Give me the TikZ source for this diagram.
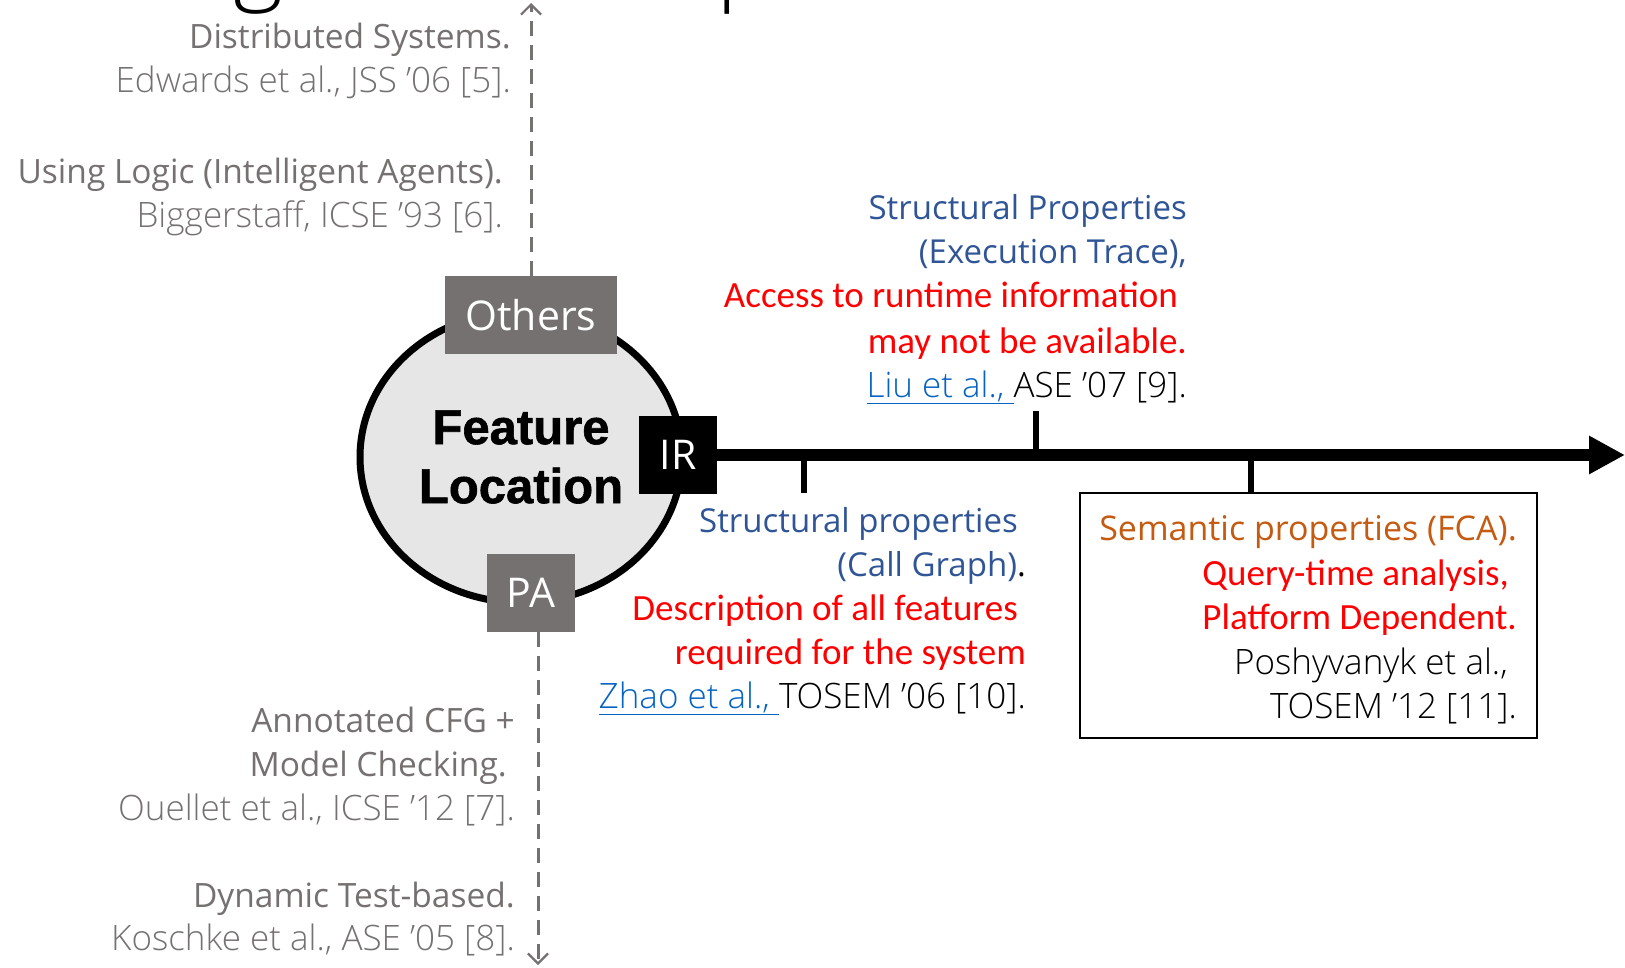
\documentclass[tikz,border=0pt]{standalone}
\usepackage{fontspec}
\usetikzlibrary{arrows.meta,shapes.geometric,calc}
\setmainfont{Open Sans}
\IfFontExistsTF{Open Sans Light}{\newfontfamily\lightfont{Open Sans Light}}{\newfontfamily\lightfont{Open Sans}}
\newfontfamily\calfont{Carlito}
\newfontfamily\flfont{Liberation Sans Bold}[FakeBold=1.2]

\definecolor{boxgray}{HTML}{767171}
\definecolor{txtgray}{HTML}{767171}
\definecolor{fillgray}{HTML}{E7E6E6}
\definecolor{strblue}{HTML}{2F5597}
\definecolor{linkblue}{HTML}{0563C1}
\definecolor{semorange}{HTML}{C55A11}
\definecolor{warnred}{HTML}{FF0000}

\tikzset{
  line/.style={inner sep=0pt, anchor=base east},
  gtitle/.style={line, text=txtgray, font=\fontsize{33.5}{40}\selectfont},
  gref/.style={line, text=txtgray, font=\lightfont\fontsize{35}{40}\selectfont},
  btitle/.style={line, text=strblue, font=\fontsize{33}{40}\selectfont},
  bref/.style={line, text=black, font=\lightfont\fontsize{35}{40}\selectfont},
  warn/.style={line, text=warnred, font=\calfont\fontsize{37}{44}\selectfont},
  tag/.style={rectangle, inner sep=0pt, text=white, font=\fontsize{41}{48}\selectfont},
  tick/.style={line width=6pt},
  axisdash/.style={draw=boxgray, line width=3pt, dash pattern=on 15pt off 9pt,
    -{Straight Barb[length=10pt, width=20pt, line width=2.2pt]}},
}
\newcommand{\linkref}[1]{\textcolor{linkblue}{\underline{#1}}}

\begin{document}
\begin{tikzpicture}[x=1pt, y=-1pt]
\path[use as bounding box] (0,0) rectangle (1625,968);

% headline above the figure, cut by the frame
\begin{scope}
  \clip (0,0) rectangle (1625,968);
  \node[anchor=base, inner sep=0pt, font=\lightfont\fontsize{95}{100}\selectfont] (hg) at (258,-8) {g};
  \node[anchor=base west, inner sep=0pt, font=\lightfont\fontsize{95}{100}\selectfont] (hp) at (716,-8) {p};
\end{scope}

% central circle with its three approach labels
\node[ellipse, draw=black, line width=7pt, fill=fillgray, minimum width=322pt, minimum height=291pt,
      inner sep=0pt, align=center, font=\flfont\fontsize{49}{59}\selectfont] (fl) at (521,457)
      {Feature\\Location};
\node[tag, fill=boxgray, minimum width=172pt, minimum height=78pt] (others) at (531,315) {Others};
\node[tag, fill=boxgray, minimum width=88pt, minimum height=78pt] (pa) at (531,593) {PA};
\node[tag, fill=black, minimum width=78pt, minimum height=78pt] (ir) at (678,455) {IR};

% IR timeline and its ticks
\coordinate (tend) at (1625,455);
\draw[line width=12pt, -{Triangle[length=36pt, width=36pt]}] (ir.east) -- (tend);
\coordinate (t1) at (804,455);
\coordinate (t1e) at (804,493);
\coordinate (t2) at (1036,455);
\coordinate (t2e) at (1036,411);
\coordinate (t3) at (1251,455);
\draw[tick] (t1) -- (t1e);
\draw[tick] (t2) -- (t2e);

% FCA box
\node[draw=black, line width=2pt, minimum width=457pt, minimum height=245pt, inner sep=0pt] (fca) at (1308.5,615.5) {};
\draw[tick] (t3) -- (t3 |- fca.north);

% dashed axes for the other approaches
\coordinate (uptop) at (531,3);
\coordinate (downend) at (538,965);
\draw[axisdash] (others.north) -- (uptop);
\draw[axisdash] ($(pa.south)+(7,0)$) -- (downend);

% upper-left entries
\node[gtitle] (dsys) at (511,49) {Distributed Systems.};
\node[gref] (edw) at (511,93) {Edwards et al., JSS ’06 [5].};
\node[gtitle] (logic) at (503,184) {Using Logic (Intelligent Agents).};
\node[gref] (bigg) at (503,228) {Biggerstaff, ICSE ’93 [6].};

% lower-left entries
\node[gtitle] (acfg) at (515,732) {Annotated CFG +};
\node[gtitle] (mchk) at (507,776) {Model Checking.};
\node[gref] (ouel) at (515,820) {Ouellet et al., ICSE ’12 [7].};
\node[gtitle] (dyn) at (515,907) {Dynamic Test-based.};
\node[gref] (kosch) at (515,950) {Koschke et al., ASE ’05 [8].};

% execution trace entry
\node[btitle] (et1) at (1187,220) {Structural Properties};
\node[btitle] (et2) at (1187,264) {(Execution Trace),};
\node[warn] (et3) at (1178,308) {Access to runtime information};
\node[warn] (et4) at (1187,353) {may not be available.};
\node[bref] (et5) at (1187,397) {\linkref{Liu et al.,\ }ASE ’07 [9].};

% call graph entry
\node[btitle] (cg1) at (1018,532) {Structural properties};
\node[btitle] (cg2) at (1026,576) {(Call Graph)\textcolor{black}{.}};
\node[warn] (cg3) at (1018,620) {Description of all features};
\node[warn] (cg4) at (1026,664) {required for the system};
\node[bref] (cg5) at (1026,708) {\linkref{Zhao et al.,\ }TOSEM ’06 [10].};

% FCA entry
\node[btitle, text=semorange, font=\fontsize{34}{40}\selectfont] (fc1) at (1517,540) {Semantic properties (FCA).};
\node[warn] (fc2) at (1509,585) {Query-time analysis,};
\node[warn] (fc3) at (1517,629) {Platform Dependent.};
\node[bref] (fc4) at (1508,674) {Poshyvanyk et al.,};
\node[bref] (fc5) at (1517,718) {TOSEM ’12 [11].};
\end{tikzpicture}
\end{document}
